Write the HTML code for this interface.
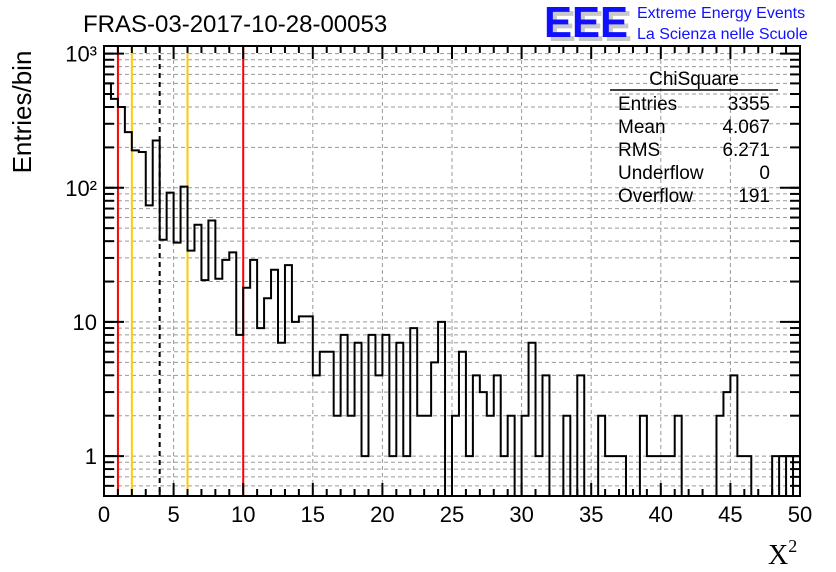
<!DOCTYPE html>
<html><head><meta charset="utf-8"><style>
html,body{margin:0;padding:0;background:#fff;}
svg{display:block;font-family:"Liberation Sans",sans-serif;}
</style></head><body>
<svg id="c" width="836" height="572" viewBox="0 0 836 572">
<rect width="836" height="572" fill="#fff"/>
<g id="grid"></g>
<g id="vlines"></g>
<path id="hist" fill="none" stroke="#000" stroke-width="2"/>
<g id="axes"></g>
<text x="83" y="32" font-size="24">FRAS-03-2017-10-28-00053</text>
<g>
<text x="548" y="41" font-size="44" font-weight="bold" fill="#c8c8c8" textLength="84" lengthAdjust="spacingAndGlyphs">EEE</text>
<text x="544" y="37" font-size="44" font-weight="bold" fill="#1010ff" textLength="84" lengthAdjust="spacingAndGlyphs">EEE</text>
<text x="637" y="18" font-size="16" fill="#1010ff">Extreme Energy Events</text>
<text x="637" y="39" font-size="16" fill="#1010ff">La Scienza nelle Scuole</text>
</g>
<g font-size="19">
<text x="694" y="85" text-anchor="middle">ChiSquare</text>
<line x1="610" y1="90" x2="778" y2="90" stroke="#000" stroke-width="1.5"/>
<text x="618" y="110">Entries</text><text x="770" y="110" text-anchor="end">3355</text>
<text x="618" y="133">Mean</text><text x="770" y="133" text-anchor="end">4.067</text>
<text x="618" y="156">RMS</text><text x="770" y="156" text-anchor="end">6.271</text>
<text x="618" y="179">Underflow</text><text x="770" y="179" text-anchor="end">0</text>
<text x="618" y="202">Overflow</text><text x="770" y="202" text-anchor="end">191</text>
</g>
<text transform="translate(31,112) rotate(-90)" font-size="26" text-anchor="middle">Entries/bin</text>
<text x="768" y="564" font-size="28" font-family="Liberation Serif,serif">X<tspan font-size="18" dy="-12">2</tspan></text>
</svg>
<script>
const binValues=[600,460,400,260,190,185,74,225,41,92,39,102,34,53,20.5,57,21,29,33,8,18,29,9,15,24.5,7,26.5,10,11,11,4,6,6,2,8,2,7,1,8,4,8,1,7,1,9,2,2,5,10,0,2,6,1,4,3,2,4,1,2,0,2,7,1,4,0,0,2,0,4,0,0,2,1,1,1,0,0,2,1,1,1,1,2,0,0,0,0,0,2,3,4,1,1,0,0,0,1,1,1,1];
const xTicks=[0,5,10,15,20,25,30,35,40,45,50];
const yDecades=[1,10,100,1000];
const yLabels=["1","10","10²","10³"];
const refLines=[{x:1,c:"#ff0000"},{x:2,c:"#ffcc00"},{x:4,c:"#000",d:"5,4"},{x:6,c:"#ffcc00"},{x:10,c:"#ff0000"}];
const X0=104,X1=800,YT=46,YB=496,YMIN=0.504,YMAX=1140,BW=0.5;
const NS="http://www.w3.org/2000/svg";
function sx(v){return X0+(v-0)/(50-0)*(X1-X0);}
function sy(v){if(v<=0)return YB;const l=Math.log10(v),a=Math.log10(YMIN),b=Math.log10(YMAX);return YB-(l-a)/(b-a)*(YB-YT);}
function mk(p,t,at){const e=document.createElementNS(NS,t);for(const k in at)e.setAttribute(k,at[k]);p.appendChild(e);return e;}
const grid=document.getElementById('grid'),axes=document.getElementById('axes'),vl=document.getElementById('vlines');
for(const t of xTicks){if(t===0||t===50)continue;const l=mk(grid,'line',{x1:sx(t),x2:sx(t),y1:YT,y2:YB,stroke:'#999','stroke-dasharray':'4,3','stroke-width':1});

}
const minorY=[];
for(const d of [0.1,1,10,100,1000])for(let m=1;m<=9;m++){const v=d*m;if(v>YMIN&&v<YMAX)minorY.push(v);}
for(const v of minorY){const l=mk(grid,'line',{x1:X0,x2:X1,y1:sy(v),y2:sy(v),stroke:'#999','stroke-dasharray':'4,3','stroke-width':1});

}
for(const r of refLines){const l=mk(vl,'line',{x1:sx(r.x),x2:sx(r.x),y1:YT,y2:YB,stroke:r.c,'stroke-width':2});if(r.d)l.setAttribute('stroke-dasharray',r.d);

}
let d='M'+sx(0)+','+YB;
binValues.forEach((v,i)=>{const y=sy(v);d+=' L'+sx(i*BW)+','+y+' L'+sx((i+1)*BW)+','+y;});
d+=' L'+sx(binValues.length*BW)+','+YB;
// edges of trailing non-empty bins drawn to baseline
for(let i=binValues.length-1;i>0&&binValues[i]>0&&binValues[i-1]>0;i--){d+=' M'+sx(i*BW)+','+YB+' L'+sx(i*BW)+','+sy(Math.min(binValues[i],binValues[i-1]));}
document.getElementById('hist').setAttribute('d',d);
const fr=mk(axes,'rect',{x:X0,y:YT,width:X1-X0,height:YB-YT,fill:'none',stroke:'#000','stroke-width':2});


for(let v=0;v<=50;v+=1){const maj=v%5===0,L=maj?13:7;
mk(axes,'line',{x1:sx(v),x2:sx(v),y1:YB,y2:YB-L,stroke:'#000','stroke-width':2});
mk(axes,'line',{x1:sx(v),x2:sx(v),y1:YT,y2:YT+L,stroke:'#000','stroke-width':2});}
for(const t of xTicks){const tx=mk(axes,'text',{x:sx(t),y:522,'font-size':22,'text-anchor':'middle'});tx.textContent=t;

}
for(const v of minorY){mk(axes,'line',{x1:X0,x2:X0+10,y1:sy(v),y2:sy(v),stroke:'#000','stroke-width':2});mk(axes,'line',{x1:X1,x2:X1-10,y1:sy(v),y2:sy(v),stroke:'#000','stroke-width':2});}
yDecades.forEach((v,i)=>{mk(axes,'line',{x1:X0,x2:X0+20,y1:sy(v),y2:sy(v),stroke:'#000','stroke-width':2});mk(axes,'line',{x1:X1,x2:X1-20,y1:sy(v),y2:sy(v),stroke:'#000','stroke-width':2});
const tx=mk(axes,'text',{x:97,y:sy(v)+8,'font-size':22,'text-anchor':'end'});tx.textContent=yLabels[i];

});
</script>
</body></html>
